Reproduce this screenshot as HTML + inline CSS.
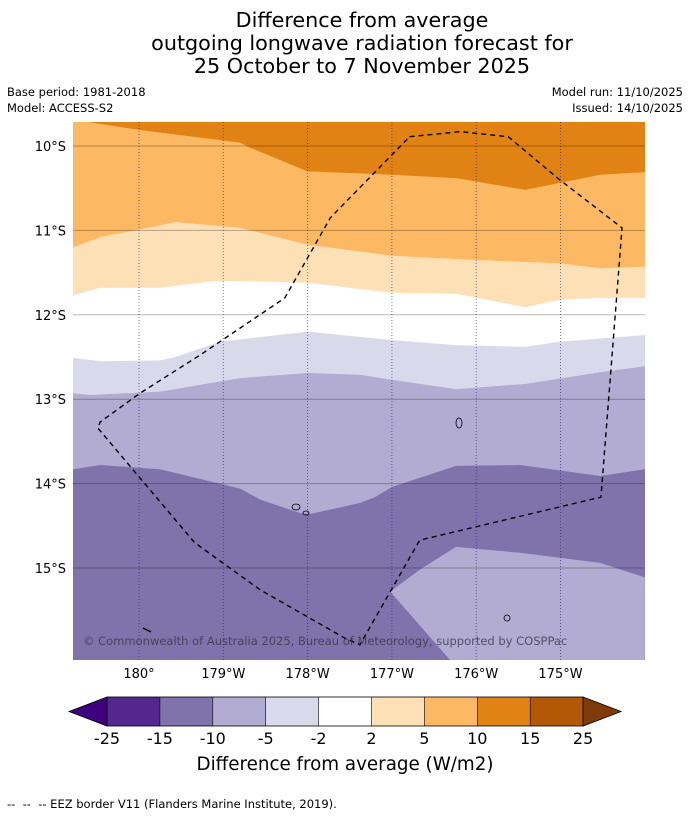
<!DOCTYPE html>
<html><head><meta charset="utf-8"><style>
body{margin:0;background:#fff;}
svg{display:block;font-family:"DejaVu Sans","Liberation Sans",sans-serif;}
</style></head><body>
<svg id="chart" width="690" height="816" viewBox="0 0 690 816" xmlns="http://www.w3.org/2000/svg">
<g font-size="20.7" text-anchor="middle" fill="#000">
<text x="362" y="27">Difference from average</text>
<text x="362" y="50">outgoing longwave radiation forecast for</text>
<text x="362" y="73">25 October to 7 November 2025</text>
</g>
<g font-size="11.5" fill="#000">
<text x="7" y="96">Base period: 1981-2018</text>
<text x="7" y="112">Model: ACCESS-S2</text>
<text x="683" y="96" text-anchor="end">Model run: 11/10/2025</text>
<text x="683" y="112" text-anchor="end">Issued: 14/10/2025</text>
</g>
<defs><clipPath id="mapclip"><rect x="73" y="122" width="572" height="538"/></clipPath></defs>
<g id="map" clip-path="url(#mapclip)"></g>
<g id="axes"></g>
<g id="cbar"></g>
<text x="345" y="770" font-size="18.3" text-anchor="middle">Difference from average (W/m2)</text>
<text x="7" y="808" font-size="11.5" xml:space="preserve">--  --  -- EEZ border V11 (Flanders Marine Institute, 2019).</text>
</svg>
<script>
const lonTicks=[180,181,182,183,184,185];
const lonLabels=["180°","179°W","178°W","177°W","176°W","175°W"];
const latTicks=[-10,-11,-12,-13,-14,-15];
const latLabels=["10°S","11°S","12°S","13°S","14°S","15°S"];
const cbLevels=["-25","-15","-10","-5","-2","2","5","10","15","25"];
const cbColors=["#3f007d","#54278f","#8073ac","#b2abd2","#d8daeb","#ffffff","#fee0b6","#fdb863","#e08214","#b35806","#7f3b08"];
// contour boundaries [lon(0-360), lat]
const edge15_10=[[179.22,-13.83],[179.54,-13.78],[180.25,-13.83],[181.2,-14.06],[181.44,-14.19],[181.91,-14.35],[182.03,-14.36],[182.62,-14.23],[182.8,-14.16],[183.0,-14.04],[183.76,-13.79],[184.52,-13.78],[185.47,-13.91],[186.0,-13.83]];
const edge10_5=[[179.22,-12.93],[179.42,-12.95],[180.25,-12.91],[181.2,-12.75],[182.0,-12.69],[182.62,-12.71],[183.0,-12.77],[183.76,-12.88],[184.58,-12.82],[185.47,-12.68],[186.0,-12.61]];
const edge5_2=[[179.22,-12.51],[179.54,-12.55],[180.25,-12.54],[180.43,-12.5],[180.96,-12.32],[182.0,-12.2],[183.0,-12.3],[183.76,-12.36],[184.58,-12.38],[184.99,-12.32],[186.0,-12.24]];
const edge2_2=[[179.22,-11.77],[179.54,-11.68],[180.25,-11.68],[180.9,-11.6],[181.2,-11.6],[182.0,-11.62],[183.0,-11.74],[183.76,-11.75],[184.58,-11.91],[184.99,-11.82],[185.47,-11.8],[186.0,-11.8]];
const edge2_5=[[179.22,-11.2],[179.54,-11.08],[180.25,-10.94],[180.43,-10.9],[181.2,-10.97],[182.0,-11.17],[183.0,-11.3],[184.0,-11.35],[184.99,-11.39],[185.47,-11.45],[186.0,-11.43]];
const edge5_10=[[179.42,-9.72],[180.01,-9.81],[181.2,-9.96],[181.32,-10.02],[182.0,-10.3],[183.0,-10.34],[183.76,-10.38],[184.58,-10.52],[185.47,-10.34],[186.0,-10.31]];
const patchLowerRight=[[182.98,-15.28],[183.33,-15.02],[183.76,-14.75],[184.52,-14.82],[185.47,-14.94],[186.0,-15.11],[186.0,-16.09],[183.69,-16.09]];
const eez=[[183.21,-9.89],[183.81,-9.83],[184.38,-9.89],[184.99,-10.4],[185.73,-10.97],[185.48,-14.16],[183.33,-14.67],[182.62,-15.91],[182.44,-15.83],[181.44,-15.26],[180.66,-14.7],[179.51,-13.34],[179.54,-13.27],[180.01,-12.93],[180.72,-12.48],[181.73,-11.8],[182.27,-10.85],[183.21,-9.89]];

const NS="http://www.w3.org/2000/svg";
const X=lon=>139+(lon-180)*84.3;
const Y=lat=>146+(-10-lat)*84.4;
function mk(tag,attrs,parent){const e=document.createElementNS(NS,tag);for(const k in attrs)e.setAttribute(k,attrs[k]);parent.appendChild(e);return e;}
const map=document.getElementById('map');
const bg=mk('rect',{x:73,y:122,width:572,height:538,fill:cbColors[2]},map);


function band(edge,color,name){
  const d='M60,0 L60,'+Y(edge[0][1])+' L'+edge.map(p=>X(p[0])+','+Y(p[1])).join(' L')+' L700,'+Y(edge[edge.length-1][1])+' L700,0 Z';
  const p=mk('path',{d:d,fill:color},map);
  
  
}
band(edge15_10,cbColors[3],'band-minus10-to-minus5');
band(edge10_5,cbColors[4],'band-minus5-to-minus2');
band(edge5_2,cbColors[5],'band-minus2-to-2');
band(edge2_2,cbColors[6],'band-2-to-5');
band(edge2_5,cbColors[7],'band-5-to-10');
(function(){
  const e=edge5_10;
  const d='M'+X(e[0][0])+',0 L'+e.map(p=>X(p[0])+','+Y(p[1])).join(' L')+' L700,'+Y(e[e.length-1][1])+' L700,0 Z';
  const p=mk('path',{d:d,fill:cbColors[8]},map);
  
  
})();
const lr=mk('path',{d:'M'+patchLowerRight.map(p=>X(p[0])+','+Y(p[1])).join(' L')+' Z',fill:cbColors[3]},map);


latTicks.forEach(v=>{const l=mk('line',{x1:73,x2:645,y1:Y(v),y2:Y(v),stroke:'rgba(0,0,0,0.28)','stroke-width':1},map);

});
lonTicks.forEach(v=>{const l=mk('line',{x1:X(v),x2:X(v),y1:122,y2:660,stroke:'rgba(30,30,110,0.6)','stroke-width':1,'stroke-dasharray':'1,2'},map);

});
[[459,423,3,5],[296,507,4,3],[306,513,3,2],[507,618,3,3]].forEach(a=>{const c=mk('ellipse',{cx:a[0],cy:a[1],rx:a[2],ry:a[3],fill:'none',stroke:'#000','stroke-width':0.8},map);

});
const sl=mk('line',{x1:143,y1:628,x2:151,y2:632,stroke:'#000','stroke-width':1.5},map);


const eezp=mk('path',{d:'M'+eez.map(p=>X(p[0])+','+Y(p[1])).join(' L'),fill:'none',stroke:'#000','stroke-width':1.4,'stroke-dasharray':'5,4'},map);


const cp=mk('text',{x:83,y:645,'font-size':11.5,fill:'rgba(50,50,60,0.75)'},map);
cp.textContent='© Commonwealth of Australia 2025, Bureau of Meteorology, supported by COSPPac';


const axes=document.getElementById('axes');
lonTicks.forEach((v,i)=>{const t=mk('text',{x:X(v),y:678,'font-size':13,'text-anchor':'middle'},axes);t.textContent=lonLabels[i];

});
latTicks.forEach((v,i)=>{const t=mk('text',{x:66,y:Y(v)+5,'font-size':13,'text-anchor':'end'},axes);t.textContent=latLabels[i];

});
const cb=document.getElementById('cbar');
const cx0=107,cw=52.9,cy=697,ch=29;
const n=cbLevels.length;
const lt=mk('polygon',{points:`${cx0},${cy} ${cx0-38},${cy+ch/2} ${cx0},${cy+ch}`,fill:cbColors[0],stroke:'#000','stroke-width':0.8},cb);


for(let i=0;i<n-1;i++){const r=mk('rect',{x:cx0+i*cw,y:cy,width:cw,height:ch,fill:cbColors[i+1]},cb);

}
const xe=cx0+(n-1)*cw;
const rt=mk('polygon',{points:`${xe},${cy} ${xe+38},${cy+ch/2} ${xe},${cy+ch}`,fill:cbColors[n],stroke:'#000','stroke-width':0.8},cb);


mk('rect',{x:cx0,y:cy,width:xe-cx0,height:ch,fill:'none',stroke:'#000','stroke-width':0.8},cb);
for(let i=0;i<n;i++){
  if(i>0&&i<n-1)mk('line',{x1:cx0+i*cw,x2:cx0+i*cw,y1:cy,y2:cy+ch,stroke:'#000','stroke-width':0.6},cb);
  const t=mk('text',{x:cx0+i*cw,y:744,'font-size':16,'text-anchor':'middle'},cb);t.textContent=cbLevels[i];
  
  
}
</script>
</body></html>
